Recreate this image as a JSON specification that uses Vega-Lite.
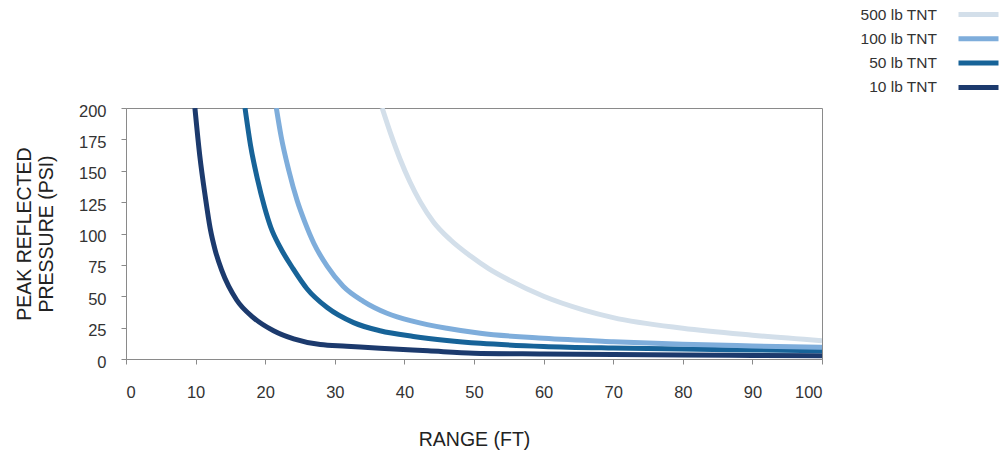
{
  "$schema": "https://vega.github.io/schema/vega-lite/v6.json",
  "autosize": {"type": "none"},
  "width": 696,
  "height": 251,
  "padding": {"left": 126, "top": 108, "right": 186, "bottom": 96},
  "background": "white",
  "config": {
    "font": "Liberation Sans",
    "view": {"stroke": "#8a8a8a", "strokeWidth": 1},
    "axis": {
      "grid": false,
      "domainColor": "#8a8a8a",
      "tickColor": "#8a8a8a",
      "tickSize": 5,
      "labelFont": "Liberation Sans",
      "labelFontSize": 16.5,
      "labelColor": "#333333",
      "titleFont": "Liberation Sans",
      "titleFontSize": 19.5,
      "titleFontWeight": "normal",
      "titleColor": "#222222"
    }
  },
  "data": {
    "values": [
      {"series": "10 lb TNT", "range": 9.9, "psi": 200},
      {"series": "10 lb TNT", "range": 10.6, "psi": 162},
      {"series": "10 lb TNT", "range": 11.4, "psi": 129},
      {"series": "10 lb TNT", "range": 12.1, "psi": 104},
      {"series": "10 lb TNT", "range": 12.8, "psi": 87},
      {"series": "10 lb TNT", "range": 13.8, "psi": 70},
      {"series": "10 lb TNT", "range": 15.9, "psi": 47},
      {"series": "10 lb TNT", "range": 18.3, "psi": 33},
      {"series": "10 lb TNT", "range": 21.2, "psi": 22.5},
      {"series": "10 lb TNT", "range": 24.1, "psi": 16},
      {"series": "10 lb TNT", "range": 27.9, "psi": 11.5},
      {"series": "10 lb TNT", "range": 31.7, "psi": 10.2},
      {"series": "10 lb TNT", "range": 36.5, "psi": 8.5},
      {"series": "10 lb TNT", "range": 43.4, "psi": 6.5},
      {"series": "10 lb TNT", "range": 50, "psi": 4.6},
      {"series": "10 lb TNT", "range": 60, "psi": 4.0},
      {"series": "10 lb TNT", "range": 70, "psi": 3.5},
      {"series": "10 lb TNT", "range": 80, "psi": 3.1},
      {"series": "10 lb TNT", "range": 90, "psi": 2.8},
      {"series": "10 lb TNT", "range": 100, "psi": 2.5},
      {"series": "50 lb TNT", "range": 17.1, "psi": 200},
      {"series": "50 lb TNT", "range": 17.9, "psi": 170},
      {"series": "50 lb TNT", "range": 18.9, "psi": 143},
      {"series": "50 lb TNT", "range": 19.9, "psi": 121},
      {"series": "50 lb TNT", "range": 20.8, "psi": 105},
      {"series": "50 lb TNT", "range": 22.1, "psi": 89.5},
      {"series": "50 lb TNT", "range": 24.0, "psi": 72},
      {"series": "50 lb TNT", "range": 26.0, "psi": 56},
      {"series": "50 lb TNT", "range": 28.9, "psi": 41},
      {"series": "50 lb TNT", "range": 32.7, "psi": 29},
      {"series": "50 lb TNT", "range": 36.5, "psi": 22.5},
      {"series": "50 lb TNT", "range": 41.3, "psi": 18},
      {"series": "50 lb TNT", "range": 46.1, "psi": 14.8},
      {"series": "50 lb TNT", "range": 50.9, "psi": 12.5},
      {"series": "50 lb TNT", "range": 60, "psi": 10},
      {"series": "50 lb TNT", "range": 70, "psi": 8.7},
      {"series": "50 lb TNT", "range": 80, "psi": 7.9},
      {"series": "50 lb TNT", "range": 90, "psi": 7.2},
      {"series": "50 lb TNT", "range": 100, "psi": 6.5},
      {"series": "100 lb TNT", "range": 21.6, "psi": 200},
      {"series": "100 lb TNT", "range": 22.3, "psi": 177},
      {"series": "100 lb TNT", "range": 23.4, "psi": 150},
      {"series": "100 lb TNT", "range": 24.6, "psi": 126},
      {"series": "100 lb TNT", "range": 25.7, "psi": 109},
      {"series": "100 lb TNT", "range": 27.0, "psi": 92},
      {"series": "100 lb TNT", "range": 28.9, "psi": 74},
      {"series": "100 lb TNT", "range": 31.2, "psi": 58},
      {"series": "100 lb TNT", "range": 34.1, "psi": 46},
      {"series": "100 lb TNT", "range": 37.5, "psi": 36.5},
      {"series": "100 lb TNT", "range": 41.3, "psi": 30},
      {"series": "100 lb TNT", "range": 46.1, "psi": 24.5},
      {"series": "100 lb TNT", "range": 50.9, "psi": 20.5},
      {"series": "100 lb TNT", "range": 60, "psi": 16.5},
      {"series": "100 lb TNT", "range": 70, "psi": 13.8},
      {"series": "100 lb TNT", "range": 80, "psi": 11.7},
      {"series": "100 lb TNT", "range": 90, "psi": 10.4},
      {"series": "100 lb TNT", "range": 100, "psi": 9.3},
      {"series": "500 lb TNT", "range": 36.8, "psi": 200},
      {"series": "500 lb TNT", "range": 38.0, "psi": 180},
      {"series": "500 lb TNT", "range": 39.4, "psi": 159},
      {"series": "500 lb TNT", "range": 40.8, "psi": 141},
      {"series": "500 lb TNT", "range": 42.3, "psi": 125},
      {"series": "500 lb TNT", "range": 44.2, "psi": 109},
      {"series": "500 lb TNT", "range": 46.6, "psi": 95},
      {"series": "500 lb TNT", "range": 49.5, "psi": 82},
      {"series": "500 lb TNT", "range": 52.1, "psi": 72},
      {"series": "500 lb TNT", "range": 55, "psi": 63},
      {"series": "500 lb TNT", "range": 60, "psi": 50},
      {"series": "500 lb TNT", "range": 65.8, "psi": 39},
      {"series": "500 lb TNT", "range": 70, "psi": 33},
      {"series": "500 lb TNT", "range": 80, "psi": 24.5},
      {"series": "500 lb TNT", "range": 90, "psi": 19},
      {"series": "500 lb TNT", "range": 100, "psi": 14.6}
    ]
  },
  "mark": {"type": "line", "strokeWidth": 5, "interpolate": "monotone", "clip": true},
  "encoding": {
    "x": {
      "field": "range",
      "type": "quantitative",
      "scale": {"domain": [0, 100], "nice": false},
      "axis": {
        "title": "RANGE (FT)",
        "values": [0, 10, 20, 30, 40, 50, 60, 70, 80, 90, 100],
        "labelPadding": 20,
        "labelFlush": true,
        "titlePadding": 30
      }
    },
    "y": {
      "field": "psi",
      "type": "quantitative",
      "scale": {"domain": [0, 200], "nice": false},
      "axis": {
        "title": ["PEAK REFLECTED", "PRESSURE (PSI)"],
        "titleLineHeight": 22,
        "values": [0, 25, 50, 75, 100, 125, 150, 175, 200],
        "labelPadding": 15,
        "labelOffset": 3,
        "titlePadding": 22
      }
    },
    "color": {
      "field": "series",
      "type": "nominal",
      "scale": {
        "domain": ["500 lb TNT", "100 lb TNT", "50 lb TNT", "10 lb TNT"],
        "range": ["#d3dfea", "#7eaddb", "#176398", "#1c3a6d"]
      },
      "legend": {
        "title": null,
        "orient": "none",
        "legendX": 840,
        "legendY": -106,
        "symbolType": "M-2,0H2",
        "symbolSize": 400,
        "symbolStrokeWidth": 5,
        "labelAlign": "right",
        "labelOffset": -54,
        "labelFontSize": 15.5,
        "labelColor": "#333333",
        "labelFont": "Liberation Sans",
        "rowPadding": 1.3
      }
    }
  }
}
